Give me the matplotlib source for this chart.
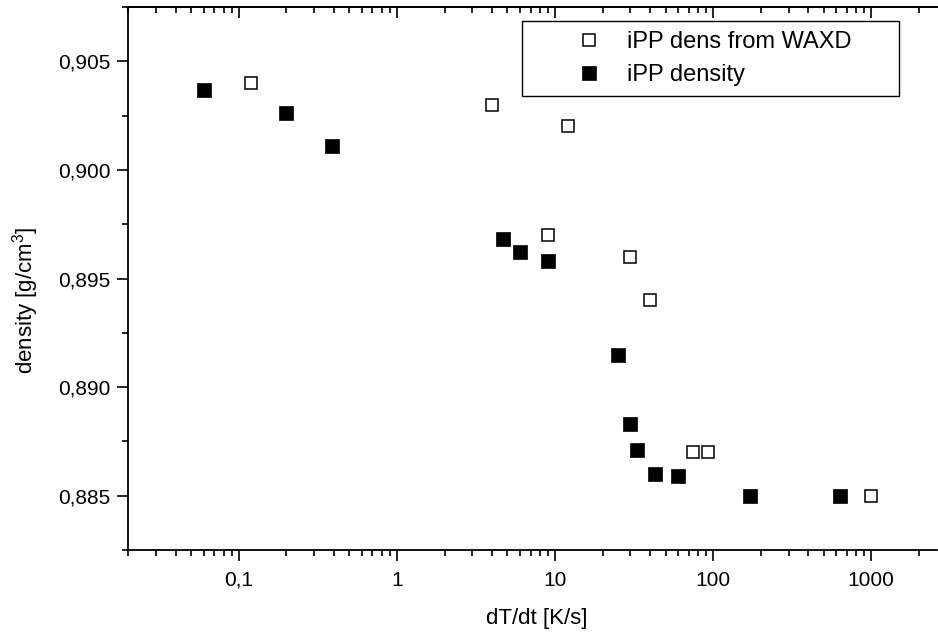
import matplotlib
matplotlib.use('Agg')
import matplotlib.pyplot as plt
from matplotlib.ticker import FuncFormatter, MultipleLocator, LogLocator, NullFormatter

# iPP density vs cooling rate
waxd_rate = [0.12, 4, 12, 9, 30, 40, 75, 93, 1000]
waxd_dens = [0.904, 0.903, 0.902, 0.897, 0.896, 0.894, 0.887, 0.887, 0.885]
dens_rate = [0.06, 0.2, 0.39, 4.7, 6, 9, 25, 30, 33, 43, 60, 170, 630]
dens_vals = [0.9037, 0.9026, 0.9011, 0.8968, 0.8962, 0.8958, 0.8915, 0.8883,
             0.8871, 0.8860, 0.8859, 0.8850, 0.8850]
x_label = 'dT/dt [K/s]'
y_label = 'density [g/cm$^3$]'
legend_labels = ['iPP dens from WAXD', 'iPP density']

plt.rcParams['font.family'] = ['Liberation Sans', 'DejaVu Sans']
plt.rcParams['mathtext.fontset'] = 'custom'
plt.rcParams['mathtext.rm'] = 'Liberation Sans'
plt.rcParams['mathtext.it'] = 'Liberation Sans'

fig = plt.figure(figsize=(9.38, 6.33), dpi=100)
ax = fig.add_axes([0.1368, 0.1311, 0.862, 0.8578])

ax.plot(waxd_rate, waxd_dens, 's', ms=9, mfc='white', mec='black', mew=1.1,
        label=legend_labels[0])
ax.plot(dens_rate, dens_vals, 's', ms=9.5, mfc='black', mec='black', mew=0.5,
        label=legend_labels[1])

ax.set_xscale('log')
ax.set_xlim(0.02, 2600)
ax.set_ylim(0.8825, 0.9075)

ax.xaxis.set_major_locator(LogLocator(base=10))
ax.xaxis.set_minor_locator(LogLocator(base=10, subs=range(2, 10)))
ax.xaxis.set_minor_formatter(NullFormatter())
ax.xaxis.set_major_formatter(FuncFormatter(lambda v, p: ('%g' % v).replace('.', ',')))
ax.yaxis.set_major_locator(MultipleLocator(0.005))
ax.yaxis.set_minor_locator(MultipleLocator(0.0025))
ax.yaxis.set_major_formatter(FuncFormatter(lambda v, p: ('%.3f' % v).replace('.', ',')))

for s in ['left', 'bottom', 'top']:
    ax.spines[s].set_linewidth(1.3)
ax.spines['right'].set_visible(False)

ax.tick_params(which='major', direction='out', length=8, width=1.2, labelsize=15, pad=5)
ax.tick_params(which='minor', direction='out', length=4, width=1.2)
ax.tick_params(axis='x', which='major', pad=7)

top = ax.secondary_xaxis('top')
top.xaxis.set_major_locator(LogLocator(base=10))
top.xaxis.set_minor_locator(LogLocator(base=10, subs=range(2, 10)))
top.tick_params(which='major', direction='in', length=8, width=1.2, labeltop=False)
top.tick_params(which='minor', direction='in', length=4, width=1.2)
top.xaxis.set_minor_formatter(NullFormatter())
top.spines['top'].set_linewidth(1.3)

ax.set_xlabel(x_label, fontsize=16)
ax.set_ylabel(y_label, fontsize=16)
ax.xaxis.set_label_coords(0.505, -0.106)
ax.yaxis.set_label_coords(-0.108, 0.46)

leg = ax.legend(loc='upper left', bbox_to_anchor=(0.4865, 0.832, 0.4665, 0.143),
                mode='expand', borderaxespad=0, fontsize=17, frameon=True,
                fancybox=False, edgecolor='black', framealpha=1, borderpad=0.45,
                handlelength=4.8, handletextpad=-0.8, labelspacing=0.45)
leg.get_frame().set_linewidth(1.0)

plt.savefig('out.png', dpi=100)
